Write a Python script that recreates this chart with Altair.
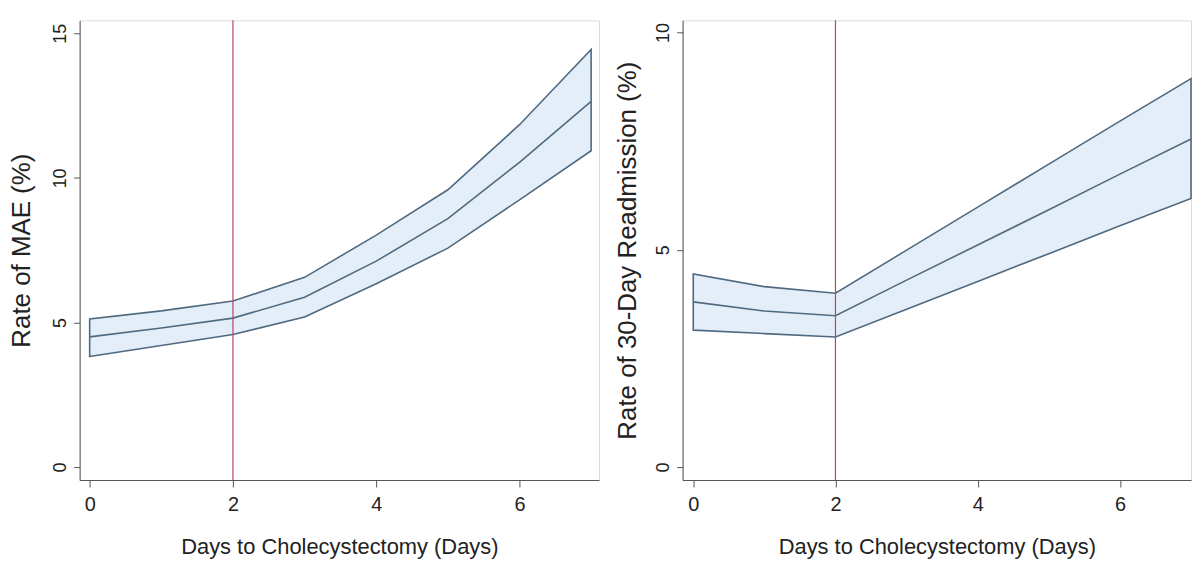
import altair as alt
import pandas as pd

days = [0, 1, 2, 3, 4, 5, 6, 7]

mae_upper = [5.12, 5.40, 5.74, 6.56, 8.02, 9.59, 11.84, 14.44]
mae_mid = [4.50, 4.81, 5.15, 5.87, 7.12, 8.59, 10.54, 12.65]
mae_lower = [3.82, 4.20, 4.58, 5.19, 6.34, 7.57, 9.24, 10.94]

readm_upper = [4.44, 4.15, 4.00, 4.99, 5.98, 6.97, 7.96, 8.94]
readm_mid = [3.80, 3.59, 3.48, 4.30, 5.11, 5.92, 6.74, 7.55]
readm_lower = [3.15, 3.07, 2.99, 3.63, 4.27, 4.91, 5.55, 6.18]

cutoff_day = [2]

x_title = "Days to Cholecystectomy (Days)"
x_ticks = [0, 2, 4, 6]
mae_title = "Rate of MAE (%)"
mae_ticks = [0, 5, 10, 15]
readm_title = "Rate of 30-Day Readmission (%)"
readm_ticks = [0, 5, 10]

FILL = "#e4eef9"
LINE = "#4f6a80"
RED = "#b5466a"
AXIS = "#555555"
REG = "Liberation Sans, Arial"


def panel(upper, mid, lower, ytitle, yticks, ydomain, xdomain, width, height, ytitlepad):
    df = pd.DataFrame({"day": days, "upper": upper, "mid": mid, "lower": lower})
    xs = alt.Scale(domain=xdomain, nice=False, zero=False)
    ys = alt.Scale(domain=ydomain, nice=False, zero=False)
    xax = alt.Axis(values=x_ticks, title=x_title, grid=False, format="d",
                   domainColor=AXIS, tickColor=AXIS, tickSize=7, labelPadding=8,
                   labelFont=REG, labelFontSize=20, labelColor="#222222",
                   titleFont=REG, titleFontSize=22, titleFontWeight="normal",
                   titleColor="#222222", titlePadding=22)
    yax = alt.Axis(values=yticks, title=ytitle, grid=False, format="d",
                   domainColor=AXIS, tickColor=AXIS, tickSize=6, labelPadding=4,
                   labelAngle=270, labelAlign="center", labelBaseline="bottom",
                   labelFont=REG, labelFontSize=18, labelColor="#222222",
                   titleFont=REG, titleFontSize=26, titleFontWeight="normal",
                   titleColor="#222222", titlePadding=ytitlepad)
    band = alt.Chart(df).mark_area(fill=FILL, stroke=LINE, strokeWidth=1.6).encode(
        x=alt.X("day:Q", scale=xs, axis=xax),
        y=alt.Y("lower:Q", scale=ys, axis=yax),
        y2="upper:Q",
    )
    midline = alt.Chart(df).mark_line(color=LINE, strokeWidth=1.6).encode(
        x=alt.X("day:Q", scale=xs),
        y=alt.Y("mid:Q", scale=ys),
    )
    rule = alt.Chart(pd.DataFrame({"d": cutoff_day})).mark_rule(color=RED, strokeWidth=1.2).encode(
        x=alt.X("d:Q", scale=xs),
    )
    return alt.layer(band, midline, rule).properties(width=width, height=height)


left = panel(mae_upper, mae_mid, mae_lower, mae_title, mae_ticks,
             [-0.45, 15.45], [-0.14, 7.11], 522, 462, 17)
right = panel(readm_upper, readm_mid, readm_lower, readm_title, readm_ticks,
              [-0.30, 10.28], [-0.15, 7.0], 511, 462, 14)

chart = alt.hconcat(left, right, spacing=14).properties(
    padding={"left": 0, "top": 9, "right": 0, "bottom": 0}
).configure_view(stroke=None).configure(background="white")

chart.save("out.html", embed_options={"renderer": "svg", "actions": False})
